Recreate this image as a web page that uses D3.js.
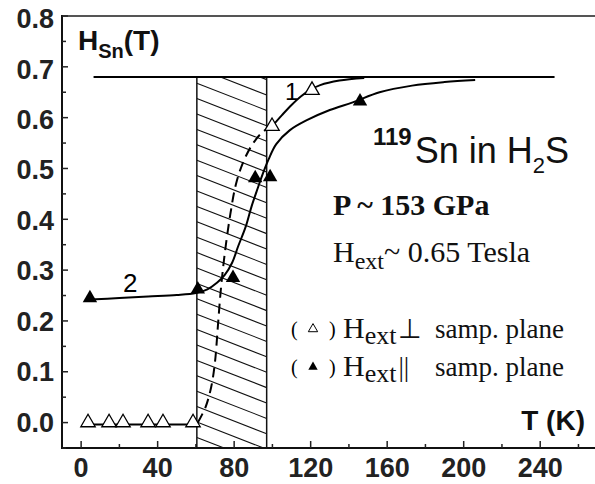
<!DOCTYPE html>
<html><head><meta charset="utf-8">
<script src="https://cdn.jsdelivr.net/npm/d3@7/dist/d3.min.js"></script>
<style>
html,body{margin:0;padding:0;background:#fff;}
svg{display:block;}
</style></head>
<body>
<svg id="chart" width="595" height="484"></svg>
<script>
// ---------- data ----------
const xTicks = [0, 40, 80, 120, 160, 200, 240];
const xMinorTicks = [20, 60, 100, 140, 180, 220, 260];
const yTicks = [0.0, 0.1, 0.2, 0.3, 0.4, 0.5, 0.6, 0.7, 0.8];
const yMinorTicks = [-0.05, 0.05, 0.15, 0.25, 0.35, 0.45, 0.55, 0.65, 0.75];

// saturation line H = 0.68
const satT = [6.5, 247.5];
const satH = [0.68, 0.68];

// hatched transition region (K)
const hatchT = [60.5, 97];

// series 1 : H_ext perpendicular to sample plane (open triangles)
const openT = [3.6, 14.6, 21.9, 35.0, 42.8, 58.5, 99.8, 120.7];
const openH = [0, 0, 0, 0, 0, 0, 0.583, 0.654];

// series 2 : H_ext parallel to sample plane (filled triangles)
const filledT = [4.6, 61.0, 79.4, 91.0, 98.8, 145.8];
const filledH = [0.245, 0.262, 0.285, 0.481, 0.483, 0.632];

// curve 1 : flat part, dashed part, solid part
const c1FlatT = [2.0, 58.5];
const c1FlatH = [-0.004, -0.004];
const c1DashT = [61, 65, 68, 70, 71.5, 73, 75, 78, 81, 85, 90, 95, 99.8];
const c1DashH = [0.0, 0.03, 0.07, 0.12, 0.19, 0.26, 0.33, 0.41, 0.47, 0.515, 0.55, 0.572, 0.583];
const c1SolidT = [99.8, 105, 110, 115, 120, 125, 135, 148];
const c1SolidH = [0.583, 0.605, 0.625, 0.642, 0.655, 0.664, 0.673, 0.678];

// curve 2
const c2T = [4.5, 20, 35, 50, 60, 66, 71, 75, 79, 82, 86, 89, 92.5, 95, 98, 102, 109, 118, 130, 142, 156, 173, 190, 206];
const c2H = [0.242, 0.245, 0.248, 0.251, 0.255, 0.262, 0.275, 0.29, 0.315, 0.346, 0.385, 0.424, 0.463, 0.49, 0.518, 0.548, 0.575, 0.595, 0.615, 0.630, 0.650, 0.663, 0.670, 0.674];

// ---------- layout ----------
const svg = d3.select("#chart");
const L = 62, T = 16, B = 448, R = 599.5;
const x = d3.scaleLinear().domain([-10, 271]).range([L, R]);
const y = d3.scaleLinear().domain([-0.05, 0.8]).range([B, T]);

const zip = (a, b) => a.map((v, i) => [v, b[i]]);
const line = d3.line().x(d => x(d[0])).y(d => y(d[1])).curve(d3.curveCatmullRom.alpha(0.5));
const straight = d3.line().x(d => x(d[0])).y(d => y(d[1]));

// frame
svg.append("line").attr("x1", L).attr("x2", 595).attr("y1", T).attr("y2", T)
  .attr("stroke", "#555").attr("stroke-width", 2);
svg.append("line").attr("x1", L).attr("x2", L).attr("y1", T - 1).attr("y2", B + 1)
  .attr("stroke", "#111").attr("stroke-width", 2);
svg.append("line").attr("x1", L).attr("x2", 595).attr("y1", B).attr("y2", B)
  .attr("stroke", "#111").attr("stroke-width", 2);

// ticks
const axG = svg.append("g").attr("stroke", "#222").attr("stroke-width", 1.5);
xTicks.forEach(t => axG.append("line").attr("x1", x(t)).attr("x2", x(t)).attr("y1", B).attr("y2", B - 7));
xMinorTicks.forEach(t => axG.append("line").attr("x1", x(t)).attr("x2", x(t)).attr("y1", B).attr("y2", B - 4));
yTicks.forEach(t => axG.append("line").attr("x1", L).attr("x2", L + 6).attr("y1", y(t)).attr("y2", y(t)));
yMinorTicks.forEach(t => axG.append("line").attr("x1", L).attr("x2", L + 4).attr("y1", y(t)).attr("y2", y(t)));

const tickFont = "'Liberation Sans', Arial, sans-serif";
svg.append("g").selectAll("text").data(xTicks).join("text")
  .attr("x", d => x(d)).attr("y", 477).attr("text-anchor", "middle")
  .attr("font-family", tickFont).attr("font-weight", "bold").attr("font-size", 27).attr("fill", "#222")
  .text(d => d);
svg.append("g").selectAll("text").data(yTicks).join("text")
  .attr("x", 54).attr("y", d => y(d) + 9 + (d - 0.0) * 4).attr("text-anchor", "end")
  .attr("font-family", tickFont).attr("font-weight", "bold").attr("font-size", 27).attr("fill", "#222")
  .text(d => d.toFixed(1));

// hatch region
const hx0 = x(hatchT[0]), hx1 = x(hatchT[1]), hy0 = y(0.68), hy1 = B;
svg.append("clipPath").attr("id", "hclip").append("rect")
  .attr("x", hx0).attr("y", hy0).attr("width", hx1 - hx0).attr("height", hy1 - hy0);
const hg = svg.append("g").attr("clip-path", "url(#hclip)").attr("stroke", "#111").attr("stroke-width", 1.1);
const slope = 0.39, step = 15.4;
for (let yy = hy0 - 40; yy < hy1 + 10; yy += step) {
  hg.append("line").attr("x1", hx0).attr("y1", yy).attr("x2", hx1).attr("y2", yy + slope * (hx1 - hx0));
}
svg.append("line").attr("x1", hx0).attr("x2", hx0).attr("y1", hy0).attr("y2", hy1).attr("stroke", "#111").attr("stroke-width", 1.5);
svg.append("line").attr("x1", hx1).attr("x2", hx1).attr("y1", hy0).attr("y2", hy1).attr("stroke", "#111").attr("stroke-width", 1.5);

// saturation line
svg.append("path").attr("d", straight(zip(satT, satH))).attr("stroke", "#000").attr("stroke-width", 2.2).attr("fill", "none");

// curves
svg.append("path").attr("d", straight(zip(c1FlatT, c1FlatH))).attr("stroke", "#000").attr("stroke-width", 2).attr("fill", "none");
svg.append("path").attr("d", line(zip(c1DashT, c1DashH))).attr("stroke", "#000").attr("stroke-width", 2)
  .attr("stroke-dasharray", "10,6").attr("fill", "none");
svg.append("path").attr("d", line(zip(c1SolidT, c1SolidH))).attr("stroke", "#000").attr("stroke-width", 2).attr("fill", "none");
svg.append("path").attr("d", line(zip(c2T, c2H))).attr("stroke", "#000").attr("stroke-width", 2).attr("fill", "none");

// markers
const tri = d3.symbol(d3.symbolTriangle).size(90);
svg.append("g").selectAll("path").data(zip(openT, openH)).join("path")
  .attr("d", tri).attr("transform", d => `translate(${x(d[0])},${y(d[1])})`)
  .attr("fill", "#fff").attr("stroke", "#000").attr("stroke-width", 1.3);
svg.append("g").selectAll("path").data(zip(filledT, filledH)).join("path")
  .attr("d", tri).attr("transform", d => `translate(${x(d[0])},${y(d[1])})`)
  .attr("fill", "#000");

// ---------- texts ----------
const sans = "'Liberation Sans', Arial, sans-serif";
const serif = "'Liberation Serif', 'Times New Roman', serif";

// H_Sn(T)
const t1 = svg.append("text").attr("x", 78).attr("y", 50).attr("font-family", sans).attr("font-weight", "bold").attr("fill", "#111");
t1.append("tspan").attr("font-size", 28).text("H");
t1.append("tspan").attr("font-size", 20).attr("dy", 8).text("Sn");
t1.append("tspan").attr("font-size", 28).attr("dy", -8).text("(T)");

// T (K)
svg.append("text").attr("x", 585).attr("y", 430).attr("text-anchor", "end")
  .attr("font-family", sans).attr("font-weight", "bold").attr("font-size", 28).attr("fill", "#111").text("T (K)");

// curve labels
svg.append("text").attr("x", 285).attr("y", 100).attr("font-family", sans).attr("font-size", 24).text("1");
svg.append("text").attr("x", 123).attr("y", 292).attr("font-family", sans).attr("font-size", 26).text("2");

// 119Sn in H2S
const t2 = svg.append("text").attr("x", 373).attr("y", 163).attr("font-family", sans).attr("fill", "#111");
t2.append("tspan").attr("font-size", 24).attr("font-weight", "bold").attr("dy", -18).text("119");
t2.append("tspan").attr("font-size", 36).attr("dy", 18).attr("dx", 3).text("Sn in H");
t2.append("tspan").attr("font-size", 22).attr("dy", 10).text("2");
t2.append("tspan").attr("font-size", 36).attr("dy", -10).text("S");

// P ~ 153 GPa
svg.append("text").attr("x", 333).attr("y", 215).attr("font-family", serif).attr("font-weight", "bold")
  .attr("font-size", 30).attr("fill", "#111").text("P ~ 153 GPa");

// H_ext ~ 0.65 Tesla
const t3 = svg.append("text").attr("x", 333).attr("y", 262).attr("font-family", serif).attr("fill", "#111");
t3.append("tspan").attr("font-size", 30).text("H");
t3.append("tspan").attr("font-size", 24).attr("dy", 7).text("ext");
t3.append("tspan").attr("font-size", 30).attr("dy", -7).text("~ 0.65 Tesla");

// legend
function legendRow(yb, filled, sym) {
  svg.append("text").attr("x", 291).attr("y", yb - 2).attr("font-family", serif).attr("font-size", 20).text("(");
  svg.append("path").attr("d", d3.symbol(d3.symbolTriangle).size(38))
    .attr("transform", `translate(313,${yb - 9})`)
    .attr("fill", filled ? "#000" : "#fff").attr("stroke", "#000").attr("stroke-width", filled ? 0 : 1);
  svg.append("text").attr("x", 329).attr("y", yb - 2).attr("font-family", serif).attr("font-size", 20).text(")");
  const t = svg.append("text").attr("x", 343).attr("y", yb).attr("font-family", serif).attr("fill", "#111");
  t.append("tspan").attr("font-size", 30).text("H");
  t.append("tspan").attr("font-size", 26).attr("dy", 6).text("ext");
  t.append("tspan").attr("font-size", 27).attr("dy", -6).attr("dx", 2).text(sym);
  t.append("tspan").attr("font-size", 27).attr("x", 435).text("samp. plane");
}
legendRow(338, false, "\u22A5");
legendRow(376, true, "||");
</script>
</body></html>
